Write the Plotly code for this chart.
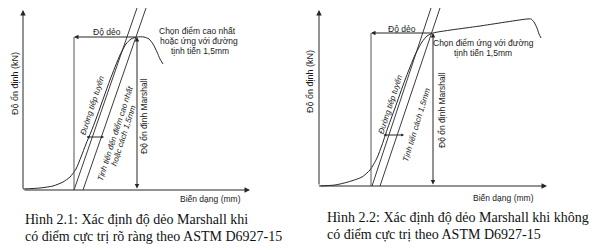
import plotly.graph_objects as go

# ---- Figure 2.1 (left): curve with a clear peak ----
left_curve_x = [23, 40, 53, 63, 70, 76, 81, 86, 91, 96, 110, 120, 126, 131, 137, 144, 149, 153, 157, 160, 163]
left_curve_y = [189, 188, 186, 182, 177, 169, 157, 144, 132, 119, 80, 55, 44, 39, 37, 37, 39, 44, 52, 59, 64]
left_tangent_x = [74, 137]
left_tangent_y = [190, 8]
left_offset_x = [83, 146]
left_offset_y = [190, 8]
left_axis = dict(x0=23, y0=190, x1=250, y1=10)
left_peak = (137, 37)
left_start = 74
left_tick = dict(x0=85, x1=104, y=137)

# ---- Figure 2.2 (right): no clear peak ----
right_curve_x = [319, 335, 348, 362, 370, 377, 382, 387, 395, 405, 415, 422, 427, 433, 480, 527, 531, 534, 537, 539, 541]
right_curve_y = [186, 185, 182, 177, 170, 158, 145, 130, 108, 80, 55, 42, 36, 33, 26, 19, 19, 22, 28, 34, 38]
right_tangent_x = [372, 431]
right_tangent_y = [186, 8]
right_offset_x = [380, 440]
right_offset_y = [186, 8]
right_axis = dict(x0=319, y0=186, x1=547, y1=10)
right_peak = (433, 33)
right_start = 371
right_tick = dict(x0=382, x1=404, y=135)

LC = "#262626"
SANS = "Liberation Sans"
SERIF = "Liberation Serif"

fig = go.Figure()

def line(xs, ys, w=1.0, color=LC):
    fig.add_trace(go.Scatter(x=xs, y=ys, mode="lines",
                             line=dict(color=color, width=w, shape="spline", smoothing=0.6),
                             hoverinfo="skip", showlegend=False))

def straight(xs, ys, w=1.0, color=LC):
    fig.add_trace(go.Scatter(x=xs, y=ys, mode="lines",
                             line=dict(color=color, width=w),
                             hoverinfo="skip", showlegend=False))

def arrow(x0, y0, x1, y1, side="end", size=0.9, head=2):
    fig.add_annotation(x=x1, y=y1, ax=x0, ay=y0, xref="x", yref="y", axref="x", ayref="y",
                       showarrow=True, arrowhead=head, startarrowhead=head, arrowside=side,
                       arrowsize=size, arrowwidth=1, arrowcolor=LC, text="")

def text(x, y, s, size=8.5, angle=0, italic=False, font=SANS, color="#1a1a1a", xanchor="center"):
    fig.add_annotation(x=x, y=y, xref="x", yref="y", text=s, showarrow=False, textangle=angle,
                       xanchor=xanchor, yanchor="middle",
                       font=dict(family=font, size=size, color=color,
                                 style="italic" if italic else "normal"))

for ax, curve_x, curve_y, tx, ty, ox, oy, peak, start, tick in [
        (left_axis, left_curve_x, left_curve_y, left_tangent_x, left_tangent_y,
         left_offset_x, left_offset_y, left_peak, left_start, left_tick),
        (right_axis, right_curve_x, right_curve_y, right_tangent_x, right_tangent_y,
         right_offset_x, right_offset_y, right_peak, right_start, right_tick)]:
    # axes
    arrow(ax["x0"], ax["y0"], ax["x0"], ax["y1"], size=1.1)
    arrow(ax["x0"], ax["y0"], ax["x1"], ax["y0"], size=1.1)
    # curve and lines
    line(curve_x, curve_y, w=1.0)
    straight(tx, ty, w=0.9)
    straight(ox, oy, w=0.9)
    # flow value vertical line (left edge)
    straight([start, start], [ax["y0"], peak[1]], w=1.0, color="#555")
    # ductility horizontal arrow
    arrow(peak[0], peak[1], start, peak[1], size=0.9)
    # Marshall stability vertical double arrow
    arrow(peak[0], ax["y0"], peak[0], peak[1], side="end+start", size=0.9)
    # offset dimension tick
    arrow(tick["x0"], tick["y"], tick["x1"], tick["y"], side="end+start", size=0.6)

# ---- Left texts ----
text(15, 84, "Độ ổn định (kN)", size=9, angle=-90)
text(107, 32, "Độ dẻo", size=8.5)
text(197, 31, "Chọn điểm cao nhất", size=8.5)
text(199, 41, "hoặc ứng với đường", size=8.5)
text(200, 51, "tịnh tiến 1,5mm", size=8.5)
text(92, 105, "Đường tiếp tuyến", size=8, angle=-72, italic=True)
text(115, 133, "Tịnh tiến đến điểm cao nhất", size=8, angle=-72, italic=True)
text(123, 136, "hoặc cách 1,5mm", size=8, angle=-72, italic=True)
text(144, 116, "Độ ổn định Marshall", size=8.5, angle=-90)
text(210, 199, "Biến dạng (mm)", size=8.5)
text(23, 219, "Hình 2.1: Xác định độ dẻo Marshall khi", size=14, font=SERIF, xanchor="left", color="#111")
text(23, 236, "có điểm cực trị rõ ràng theo ASTM D6927-15", size=14, font=SERIF, xanchor="left", color="#111")

# ---- Right texts ----
text(310, 82, "Độ ổn định (kN)", size=9, angle=-90)
text(402, 29, "Độ dẻo", size=8.5)
text(483, 43, "Chọn điểm ứng với đường", size=8.5)
text(483, 53, "tịnh tiến 1,5mm", size=8.5)
text(390, 104, "Đường tiếp tuyến", size=8, angle=-72, italic=True)
text(416, 125, "Tịnh tiến cách 1,5mm", size=8, angle=-73, italic=True)
text(442, 110, "Độ ổn định Marshall", size=8.5, angle=-90)
text(503, 198, "Biến dạng (mm)", size=8.5)
text(325, 217, "Hình 2.2: Xác định độ dẻo Marshall khi không", size=14, font=SERIF, xanchor="left", color="#111")
text(325, 234, "có điểm cực trị theo ASTM D6927-15", size=14, font=SERIF, xanchor="left", color="#111")

fig.update_layout(
    width=600, height=250, margin=dict(l=0, r=0, t=0, b=0),
    paper_bgcolor="white", plot_bgcolor="white",
    xaxis=dict(range=[0, 600], visible=False, fixedrange=True),
    yaxis=dict(range=[250, 0], visible=False, fixedrange=True),
)
fig.write_html("out.html", config={"displayModeBar": False})
